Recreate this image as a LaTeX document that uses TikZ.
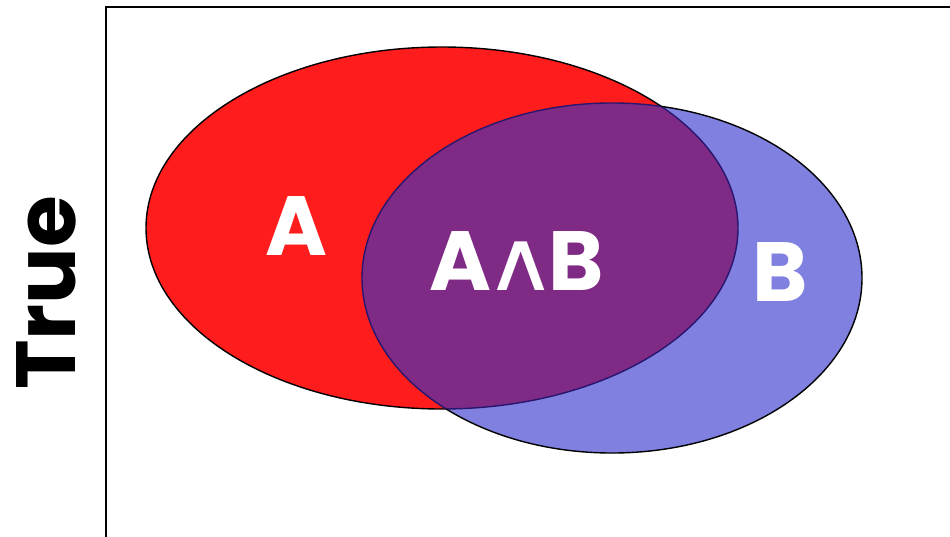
\documentclass[tikz,border=0pt]{standalone}
\usepackage{fontspec}
\setmainfont{Poppins}
\newfontfamily\wedgefont{DejaVu Sans}
\usetikzlibrary{positioning}
\definecolor{setred}{RGB}{255,28,28}
\definecolor{setblue}{RGB}{128,128,224}
\definecolor{setboth}{RGB}{127,42,133}
\definecolor{edgenavy}{RGB}{40,22,110}

\begin{document}
\begin{tikzpicture}[x=1pt, y=-1pt,
    setlabel/.style={text=white, inner sep=0pt, font=\bfseries\fontsize{84}{84}\selectfont},
    axislabel/.style={inner sep=0pt, rotate=90, font=\bfseries\fontsize{84}{84}\selectfont}]
  \useasboundingbox (0,0) rectangle (950,536);
  % frame of the universe
  \coordinate (top left) at (106,7);
  \draw[line width=1.6pt] (106,540) -- (top left) -- (960,7);
  % the two sets
  \fill[setred] (442,228) ellipse [x radius=296pt, y radius=181pt];
  \draw[line width=1.4pt] (442,228) ellipse [x radius=296pt, y radius=181pt];
  \fill[setblue] (612,278) ellipse [x radius=250pt, y radius=175pt];
  \begin{scope}
    \clip (442,228) ellipse [x radius=296pt, y radius=181pt];
    \fill[setboth] (612,278) ellipse [x radius=250pt, y radius=175pt];
    \draw[edgenavy, line width=1.4pt] (612,278) ellipse [x radius=250pt, y radius=175pt];
  \end{scope}
  \begin{scope}
    \clip (612,278) ellipse [x radius=250pt, y radius=175pt];
    \draw[edgenavy, line width=1.4pt] (442,228) ellipse [x radius=296pt, y radius=181pt];
  \end{scope}
  \begin{scope}[even odd rule]
    \clip (0,0) rectangle (950,536) (442,228) ellipse [x radius=296pt, y radius=181pt];
    \draw[line width=1.4pt] (612,278) ellipse [x radius=250pt, y radius=175pt];
  \end{scope}
  % labels
  \node[setlabel] (A) at (296,226) {A};
  \node[setlabel] (AB) at (517,261) {A\kern5pt\makebox[48pt]{\scalebox{1.25}[1.05]{\wedgefont\mdseries\fontsize{80}{80}\selectfont ∧}}\kern4pt B};
  \node[setlabel] (B) at (780,272) {B};
  \node[axislabel] (true) at (46,293) {True};
\end{tikzpicture}
\end{document}
